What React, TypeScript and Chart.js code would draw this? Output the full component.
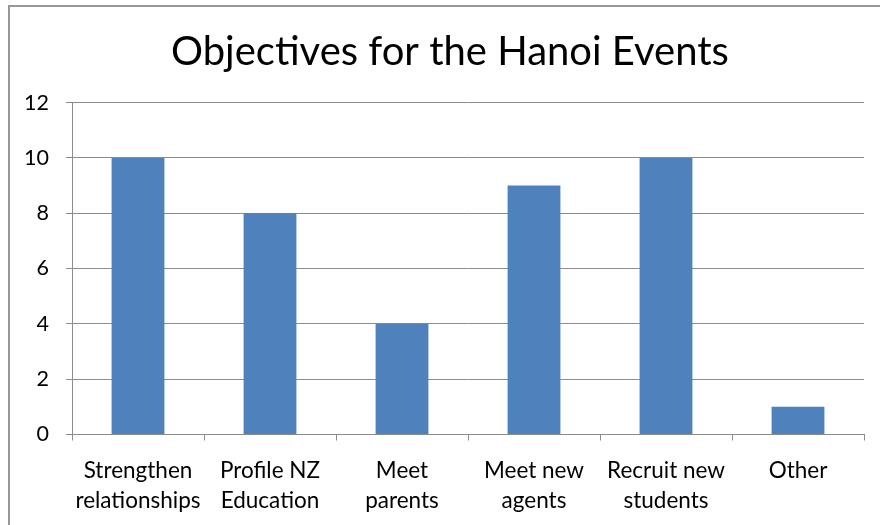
import React, { useEffect, useRef } from "react";
import { Chart, registerables } from "chart.js";

Chart.register(...registerables);

const categories: string[][] = [
  ["Strengthen", "relationships"],
  ["Profile NZ", "Education"],
  ["Meet", "parents"],
  ["Meet new", "agents"],
  ["Recruit new", "students"],
  ["Other"],
];
const values: number[] = [10, 8, 4, 9, 10, 1];
const titleText = "Objectives for the Hanoi Events";
const yMin = 0;
const yMax = 12;
const yStep = 2;

export default function App() {
  const ref = useRef<HTMLCanvasElement | null>(null);

  useEffect(() => {
    if (!ref.current) return;
    const font = "Lato, 'Open Sans', sans-serif";
    const chart = new Chart(ref.current, {
      type: "bar",
      data: {
        labels: categories,
        datasets: [
          {
            data: values,
            backgroundColor: "#4F81BD",
            borderWidth: 0,
            categoryPercentage: 1,
            barPercentage: 0.4,
            yAxisID: "y",
          },
        ],
      },
      options: {
        animation: false,
        responsive: false,
        maintainAspectRatio: false,
        devicePixelRatio: 1,
        layout: { padding: { left: 0, right: -20, top: 0, bottom: 0 } },
        plugins: {
          legend: { display: false },
          tooltip: { enabled: false },
          title: {
            display: true,
            text: titleText,
            color: "#000",
            font: { family: font, size: 40, weight: "normal", lineHeight: 1.2 },
            padding: { top: 28, bottom: 26.6 },
          },
        },
        scales: {
          x: {
            grid: {
              display: true,
              drawOnChartArea: false,
              drawTicks: true,
              tickLength: 6,
              color: "#8c8c8c",
              offset: true,
            },
            border: { display: true, color: "#8c8c8c", width: 1 },
            ticks: {
              color: "#000",
              font: { family: font, size: 22.5, lineHeight: 1.3 },
              padding: 16,
              maxRotation: 0,
              autoSkip: false,
            },
            afterFit: (s: any) => {
              s.height = 90.5;
            },
          },
          y: {
            position: "left",
            min: yMin,
            max: yMax,
            grid: {
              display: true,
              drawOnChartArea: true,
              drawTicks: true,
              tickLength: 6,
              color: "#8c8c8c",
            },
            border: { display: true, color: "#8c8c8c", width: 1 },
            ticks: {
              stepSize: yStep,
              color: "#000",
              font: { family: font, size: 21.5 },
              padding: 17,
            },
            afterFit: (s: any) => {
              s.width = 72;
            },
          },
          yRight: {
            position: "right",
            display: true,
            min: yMin,
            max: yMax,
            grid: { display: false, drawTicks: false },
            border: { display: false },
            ticks: { display: false },
            afterFit: (s: any) => {
              s.width = 36;
            },
          },
        },
      },
    });
    return () => chart.destroy();
  }, []);

  return (
    <div
      style={{
        position: "fixed",
        left: 0,
        top: 0,
        width: 880,
        height: 525,
        background: "#fff",
        overflow: "hidden",
      }}
    >
      <canvas
        ref={ref}
        width={880}
        height={525}
        style={{ position: "absolute", left: 0, top: 0, width: 880, height: 525 }}
      />
      <div
        style={{
          position: "absolute",
          left: 8,
          top: 5,
          width: 1000,
          height: 1000,
          borderLeft: "2px solid #989898",
          borderTop: "2px solid #989898",
          pointerEvents: "none",
        }}
      />
    </div>
  );
}
